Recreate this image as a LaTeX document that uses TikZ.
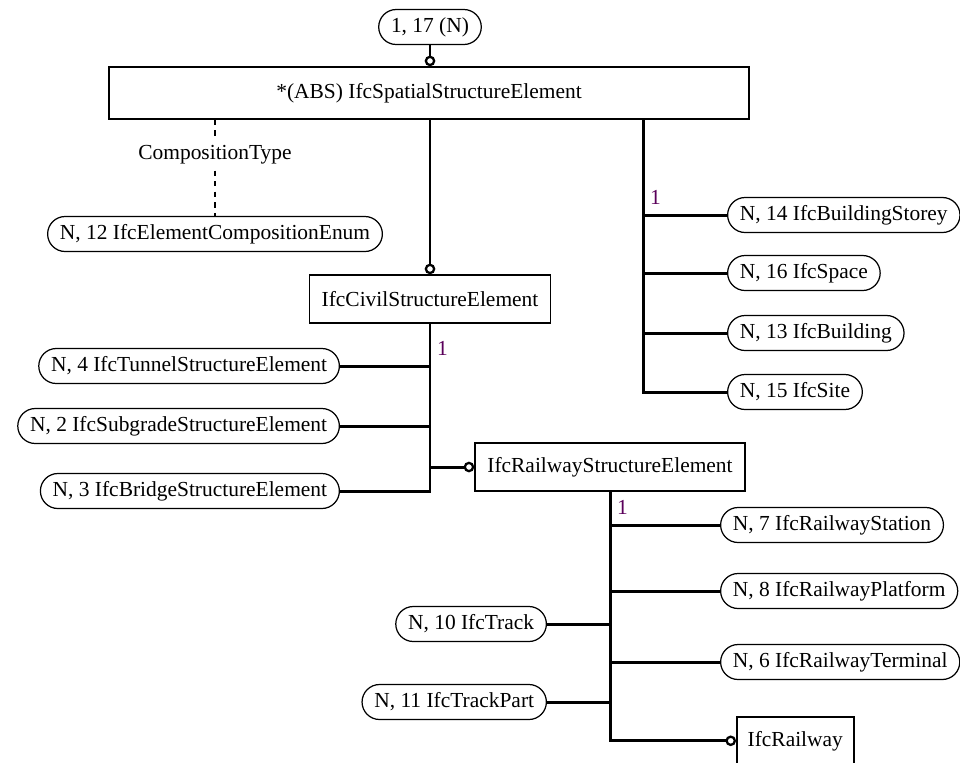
\documentclass[tikz,border=0pt]{standalone}
\usepackage{fontspec}
\setmainfont{Liberation Serif}
\usetikzlibrary{arrows.meta}
\definecolor{onecol}{RGB}{90,0,90}
\tikzset{
	entbox/.style={draw, line width=0.9pt, minimum height=0.96cm, inner xsep=6pt},
	refnode/.style={draw, line width=0.7pt, rounded corners=0.35cm, minimum height=0.7cm, inner xsep=7pt},
	link/.style={line width=1.7pt},
	relto/.style={link, -{Circle[open, length=6pt, line width=1.3pt]}},
	card/.style={text=onecol, inner sep=1pt}
}
\begin{document}
\begin{tikzpicture}[x=0.02cm, y=-0.02cm, font=\fontsize{12.2}{14}\selectfont]
	\useasboundingbox (0, 0) rectangle (960, 762);
	\clip (0, 0) rectangle (960, 762);

	\draw node[refnode] at (430, 27) (top) {1, 17 (N)};
	\draw node[entbox, minimum width=12.8cm, minimum height=1.04cm] at (429, 93) (spatial) {*(ABS) IfcSpatialStructureElement};
	\draw node at (215, 155) (ctype) {CompositionType};
	\draw node[refnode] at (215, 234) (enum) {N, 12 IfcElementCompositionEnum};
	\draw node[entbox, minimum width=4.82cm] at (430, 299) (civil) {IfcCivilStructureElement};
	\coordinate (rtop) at (643, 119);

	% spatial structure children
	\draw node[refnode, anchor=west] at (727, 215) (storey) {N, 14 IfcBuildingStorey};
	\draw node[refnode, anchor=west] at (727, 273) (space) {N, 16 IfcSpace};
	\draw node[refnode, anchor=west] at (727, 333) (building) {N, 13 IfcBuilding};
	\draw node[refnode, anchor=west] at (727, 392) (site) {N, 15 IfcSite};

	% civil structure children
	\draw node[refnode, anchor=east] at (340, 366) (tunnel) {N, 4 IfcTunnelStructureElement};
	\draw node[refnode, anchor=east] at (340, 426) (subgrade) {N, 2 IfcSubgradeStructureElement};
	\draw node[refnode, anchor=east] at (340, 491) (bridge) {N, 3 IfcBridgeStructureElement};
	\draw node[entbox, minimum width=5.4cm] at (610, 467) (railse) {IfcRailwayStructureElement};

	% railway structure children
	\draw node[refnode, anchor=west] at (720, 525) (station) {N, 7 IfcRailwayStation};
	\draw node[refnode, anchor=west] at (720, 591) (platform) {N, 8 IfcRailwayPlatform};
	\draw node[refnode, anchor=west] at (720, 662) (terminal) {N, 6 IfcRailwayTerminal};
	\draw node[refnode, anchor=east] at (547, 624) (track) {N, 10 IfcTrack};
	\draw node[refnode, anchor=east] at (547, 702) (trackpart) {N, 11 IfcTrackPart};
	\draw node[entbox, anchor=north west, minimum width=2.34cm] at (736, 716) (railway) {IfcRailway};

	\draw [relto] (top) -- (top.south |- spatial.north);
	\draw [dashed, line width=0.7pt] (spatial.south -| ctype) -- (ctype.north);
	\draw [dashed, line width=0.7pt] (ctype.south) -- (enum.north);
	\draw [relto] (spatial.south -| civil.north) -- (civil.north);

	\draw [link] (rtop) |- (site.west);
	\draw [link] (rtop |- storey.west) -- (storey.west);
	\draw [link] (rtop |- space.west) -- (space.west);
	\draw [link] (rtop |- building.west) -- (building.west);
	\draw node[card, anchor=south west] at (648, 207) (c1) {1};

	\draw [link] (civil.south) |- (bridge.east);
	\draw [link] (civil.south |- tunnel.east) -- (tunnel.east);
	\draw [link] (civil.south |- subgrade.east) -- (subgrade.east);
	\draw [relto] (civil.south |- railse.west) -- (railse.west);
	\draw node[card, anchor=south west] at (435, 358) (c2) {1};

	\draw [relto] (railse.south) |- (railway.west);
	\draw [link] (railse.south |- station.west) -- (station.west);
	\draw [link] (railse.south |- platform.west) -- (platform.west);
	\draw [link] (railse.south |- terminal.west) -- (terminal.west);
	\draw [link] (railse.south |- track.east) -- (track.east);
	\draw [link] (railse.south |- trackpart.east) -- (trackpart.east);
	\draw node[card, anchor=south west] at (615, 517) (c3) {1};
\end{tikzpicture}
\end{document}
